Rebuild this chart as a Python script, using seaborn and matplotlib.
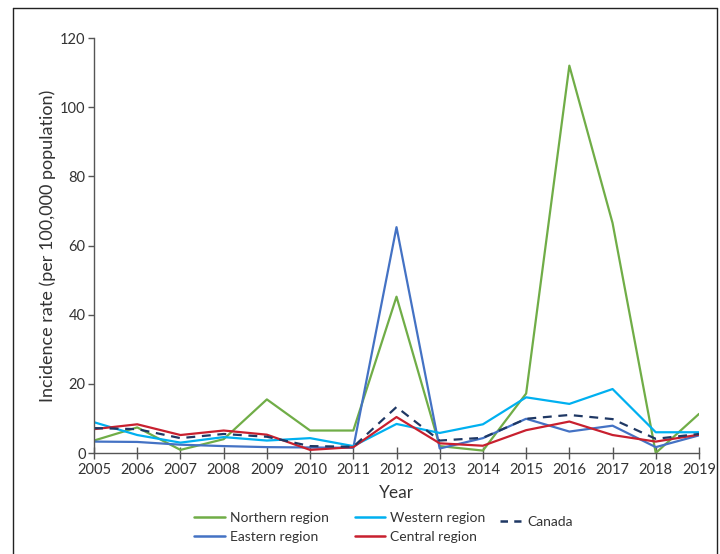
import matplotlib
matplotlib.use("Agg")
import matplotlib.pyplot as plt
from matplotlib.lines import Line2D
import numpy as np
import pandas as pd
import seaborn as sns

years = list(range(2005, 2020))
northern = [3.6, 7.4, 0.9, 4.0, 15.5, 6.5, 6.5, 45.2, 2.0, 0.7, 17.2, 112.0, 66.5, 0.0, 11.3]
eastern = [3.3, 3.2, 2.4, 2.0, 1.7, 1.6, 1.5, 65.3, 1.3, 4.3, 9.9, 6.2, 7.9, 1.7, 5.1]
western = [8.9, 5.2, 3.0, 4.6, 3.6, 4.3, 2.0, 8.4, 5.8, 8.3, 16.1, 14.2, 18.5, 6.0, 6.0]
central = [6.9, 8.3, 5.2, 6.5, 5.3, 0.9, 1.7, 10.4, 2.8, 2.1, 6.6, 9.1, 5.2, 3.3, 5.3]
canada = [7.2, 6.9, 4.3, 5.5, 4.7, 2.0, 1.8, 13.3, 3.6, 4.4, 9.9, 11.0, 9.8, 4.1, 5.5]

series = {
    "Northern region": northern,
    "Eastern region": eastern,
    "Western region": western,
    "Central region": central,
    "Canada": canada,
}
palette = {
    "Northern region": "#70AD47",
    "Eastern region": "#4472C4",
    "Western region": "#00B0F0",
    "Central region": "#C8202F",
    "Canada": "#1F3864",
}
dashes = {
    "Northern region": "",
    "Eastern region": "",
    "Western region": "",
    "Central region": "",
    "Canada": (4, 3),
}

df = pd.DataFrame(
    [(y, name, v) for name, vals in series.items() for y, v in zip(years, vals)],
    columns=["Year", "Series", "Rate"],
)

sns.set_theme(style="white")
plt.rcParams["font.family"] = ["Lato", "DejaVu Sans"]
text_color = "#333333"

fig = plt.figure(figsize=(7.2, 5.54), dpi=100)
ax = fig.add_axes([0.1306, 0.1823, 0.8402, 0.7491])

sns.lineplot(
    data=df, x="Year", y="Rate", hue="Series", style="Series",
    palette=palette, dashes=dashes, hue_order=list(series),
    style_order=list(series), linewidth=1.6, ax=ax, legend=False,
)

ax.set_xlim(2005, 2019)
ax.set_ylim(0, 120)
ax.set_xticks(years)
ax.set_yticks(np.arange(0, 121, 20))
ax.tick_params(axis="x", direction="inout", length=8, width=1, colors="#555555",
               labelcolor=text_color, labelsize=10.5, pad=3)
ax.tick_params(axis="y", direction="out", length=4, width=1, colors="#555555",
               labelcolor=text_color, labelsize=10.5, pad=2)
ax.tick_params(axis="both", which="both", bottom=True, left=True)
for side in ("top", "right"):
    ax.spines[side].set_visible(False)
for side in ("left", "bottom"):
    ax.spines[side].set_color("#555555")
    ax.spines[side].set_linewidth(1.0)

ax.set_xlabel("Year", fontsize=12.5, color=text_color, labelpad=6)
ax.set_ylabel("Incidence rate (per 100,000 population)", fontsize=13,
              color=text_color, labelpad=3)

names = list(series)
handles = {
    n: Line2D([], [], color=palette[n], linewidth=1.8,
              linestyle=(0, (3, 2.5)) if n == "Canada" else "-")
    for n in names
}
order = ["Northern region", "Eastern region", "Western region", "Central region"]
fig.legend([handles[n] for n in order], order, ncol=2,
           loc="center", bbox_to_anchor=(0.472, 0.048), frameon=False,
           fontsize=10, handlelength=2.2, handletextpad=0.35,
           columnspacing=1.9, labelspacing=0.45, labelcolor=text_color)
fig.legend([handles["Canada"]], ["Canada"], loc="center",
           bbox_to_anchor=(0.745, 0.058), frameon=False, fontsize=10,
           handlelength=1.5, handletextpad=0.5, labelcolor=text_color)

# open frame around the figure (left, top, right)
frame_kw = dict(color="#222222", linewidth=1.0, transform=fig.transFigure)
fig.add_artist(Line2D([0.018, 0.018], [0.0, 0.986], **frame_kw))
fig.add_artist(Line2D([0.018, 0.996], [0.986, 0.986], **frame_kw))
fig.add_artist(Line2D([0.996, 0.996], [0.0, 0.986], **frame_kw))

fig.savefig("out.png", dpi=100)
